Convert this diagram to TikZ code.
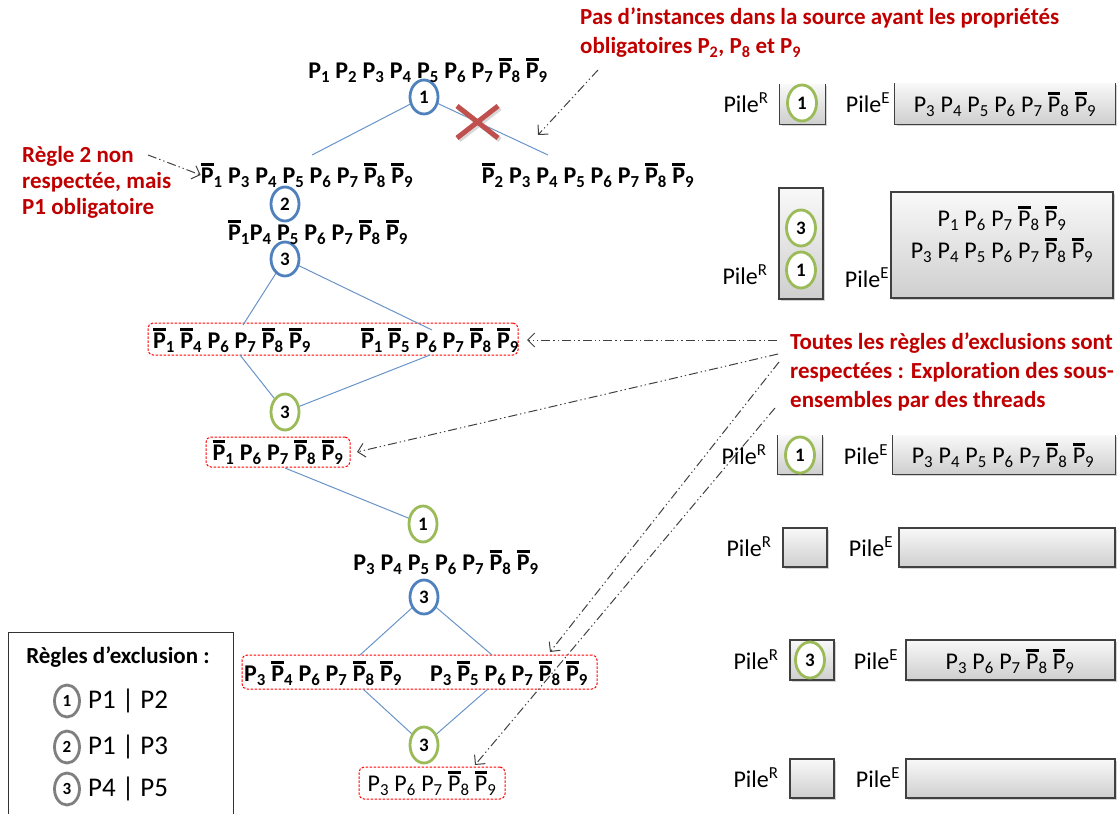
\documentclass[tikz,border=0pt]{standalone}
\usepackage{fontspec}
\setmainfont{Carlito}[Ligatures=NoCommon]
\usetikzlibrary{shapes.geometric,arrows.meta,shadows}
\definecolor{cblue}{HTML}{4F81BD}
\definecolor{cgreen}{HTML}{9BBB59}
\definecolor{cred}{HTML}{C00000}
\definecolor{xred}{HTML}{C0504D}
\definecolor{cgray}{HTML}{7F7F7F}
\newcommand\ovl[1]{\leavevmode\vbox{\hrule height .12em\kern .1em\hbox{#1}}}
\newcommand\pp[1]{P\textsubscript{#1}}
\newcommand\pn[1]{\ovl{P}\textsubscript{#1}}
\tikzset{
 tl/.style={inner sep=0pt, font=\fontsize{24}{28}\selectfont\bfseries},
 tr/.style={inner sep=0pt, font=\fontsize{24}{32}\selectfont, align=center},
 circ/.style={ellipse, line width=2.8pt, minimum width=28pt, minimum height=34pt, inner sep=0pt, fill=white, font=\fontsize{19}{19}\selectfont\bfseries},
 bc/.style={circ, draw=cblue},
 gc/.style={circ, draw=cgreen},
 kc/.style={circ, draw=cgray, minimum width=25pt, minimum height=32pt, font=\fontsize{17}{17}\selectfont\bfseries},
 tedge/.style={draw=cblue!85, line width=1pt},
 rbox/.style={draw=red, dash pattern=on 2.5pt off 1.5pt, line width=1pt, rounded corners=5pt, inner sep=0pt},
 ann/.style={text=cred, font=\fontsize{23}{29}\selectfont\bfseries, align=left, inner sep=0pt},
 arr/.style={draw=black!75, line width=1pt, dash pattern=on 9pt off 3pt on 1.3pt off 3pt on 1.3pt off 3pt, -{Straight Barb[length=7pt,width=14pt,line width=1pt]}},
 pile/.style={inner sep=0pt, font=\fontsize{24}{28}\selectfont},
 stkfill/.style={inner sep=0pt, top color=gray!5, bottom color=gray!38, drop shadow={shadow xshift=1.5pt, shadow yshift=-2pt, opacity=0.35}},
 stk/.style={stkfill, draw=black!75, line width=1.3pt},
 stkline/.style={draw=black!75, line width=1.3pt},
 legt/.style={inner sep=0pt, font=\fontsize{27}{30}\selectfont, anchor=west},
}
\begin{document}
\begin{tikzpicture}[x=1pt,y=-1pt]
\useasboundingbox (0,0) rectangle (1117,814);

% ---------- tree: coordinates for edge ends
\coordinate (e1) at (312,155);
\coordinate (e2) at (548,155);
\coordinate (e3) at (243,325);
\coordinate (e4) at (432,330);
\coordinate (e5) at (240,355);
\coordinate (e6) at (430,355);
\coordinate (e7) at (285,468);
\coordinate (e8) at (360,655);
\coordinate (e9) at (492,655);
\coordinate (e10) at (363,689);
\coordinate (e11) at (488,689);

% circles positions (nodes drawn after edges)
\path (424,97) coordinate (pc1) (285,204) coordinate (pc2) (285,259) coordinate (pc3)
      (285,412) coordinate (pc4) (423,524) coordinate (pc5) (424,597) coordinate (pc6)
      (424,745) coordinate (pc7);

% red dashed boxes
\node[rbox, minimum width=370pt, minimum height=32pt] (B1) at (333,339) {};
\node[rbox, minimum width=144pt, minimum height=30pt] (B2) at (278,452) {};
\node[rbox, minimum width=355pt, minimum height=34pt] (B3) at (419.5,672) {};
\node[rbox, minimum width=146pt, minimum height=32pt] (B4) at (432,783) {};

% edges
\draw[tedge] (pc1) -- (e1);
\draw[tedge] (pc1) -- (e2);
\draw[tedge] (pc3) -- (e3);
\draw[tedge] (pc3) -- (e4);
\draw[tedge] (e5) -- (pc4);
\draw[tedge] (e6) -- (pc4);
\draw[tedge] (e7) -- (pc5);
\draw[tedge] (pc6) -- (e8);
\draw[tedge] (pc6) -- (e9);
\draw[tedge] (e10) -- (pc7);
\draw[tedge] (e11) -- (pc7);

% circles
\node[bc] (C1) at (pc1) {1};
\node[bc] (C2) at (pc2) {2};
\node[bc] (C3) at (pc3) {3};
\node[gc, minimum height=36pt] (C4) at (pc4) {3};
\node[gc, minimum height=36pt] (C5) at (pc5) {1};
\node[bc] (C6) at (pc6) {3};
\node[gc, minimum height=36pt] (C7) at (pc7) {3};

% red cross
\draw[black!30, line width=5pt, opacity=.5] (459,108) -- (500,140) (459,140) -- (500,108);
\draw[xred, line width=5pt] (457,106) -- (498,138) (457,138) -- (498,106);

% tree labels
\node[tl] (L0) at (428,70) {\pp1 \pp2 \pp3 \pp4 \pp5 \pp6 \pp7 \pn8 \pn9};
\node[tl] (L1) at (307,175) {\pn1 \pp3 \pp4 \pp5 \pp6 \pp7 \pn8 \pn9};
\node[tl] (L1r) at (588,175) {\pn2 \pp3 \pp4 \pp5 \pp6 \pp7 \pn8 \pn9};
\node[tl] (L2) at (318,232) {\pn1\pp4 \pp5 \pp6 \pp7 \pn8 \pn9};
\node[tl] (L3a) at (232,340) {\pn1 \pn4 \pp6 \pp7 \pn8 \pn9};
\node[tl] (L3b) at (440,340) {\pn1 \pn5 \pp6 \pp7 \pn8 \pn9};
\node[tl] (L4) at (278,452) {\pn1 \pp6 \pp7 \pn8 \pn9};
\node[tl] (L5) at (446,562) {\pp3 \pp4 \pp5 \pp6 \pp7 \pn8 \pn9};
\node[tl] (L6a) at (323,673) {\pp3 \pn4 \pp6 \pp7 \pn8 \pn9};
\node[tl] (L6b) at (509,673) {\pp3 \pn5 \pp6 \pp7 \pn8 \pn9};
\node[tr] (L7) at (432,783) {\pp3 \pp6 \pp7 \pn8 \pn9};

% annotations
\node[ann, anchor=north west] (A1) at (580,8) {Pas d’instances dans la source ayant les propriétés\\obligatoires P\textsubscript{2}, P\textsubscript{8} et P\textsubscript{9}};
\node[ann, anchor=north west, font=\fontsize{23}{26}\selectfont\bfseries] (A2) at (22,146) {Règle 2 non\\respectée, mais\\P1 obligatoire};
\node[ann, anchor=north west] (A3) at (790,333) {Toutes les règles d’exclusions sont\\respectées : Exploration des sous-\\ensembles par des threads};

% annotation arrows
\coordinate (a1s) at (598,70);   \coordinate (a1e) at (538,135);
\coordinate (a2s) at (148,155);
\coordinate (a3s) at (777,340);  \coordinate (a3e) at (527,340);
\coordinate (a4s) at (778,354);  \coordinate (a4e) at (357,452);
\coordinate (a5s) at (779,362);  \coordinate (a5e) at (550,652);
\coordinate (a6s) at (775,408);  \coordinate (a6e) at (475,765);
\draw[arr] (a1s) -- (a1e);
\draw[arr] (a2s) -- (L1.west);
\draw[arr] (a3s) -- (a3e);
\draw[arr] (a4s) -- (a4e);
\draw[arr] (a5s) -- (a5e);
\draw[arr] (a6s) -- (a6e);

% ---------- stacks
% row 1
\node[pile] (PR1) at (746,103) {Pile\textsuperscript{R}};
\node[stkfill, minimum width=45pt, minimum height=40pt] (R1) at (802.5,104) {};
\draw[stkline] (R1.north west) -- (R1.south west) -- (R1.south east) -- (R1.north east);
\node[gc, minimum height=36pt, minimum width=29pt] (R1a) at (802,103) {1};
\node[pile] (PE1) at (868,103) {Pile\textsuperscript{E}};
\node[stkfill, minimum width=220pt, minimum height=41pt] (E1) at (1005,103.5) {};
\draw[stkline] (E1.north west) -- (E1.south west) -- (E1.south east) -- (E1.north east);
\node[tr] (E1t) at (1005,104) {\pp3 \pp4 \pp5 \pp6 \pp7 \pn8 \pn9};

% row 2
\node[pile] (PR2) at (745,275) {Pile\textsuperscript{R}};
\node[stk, minimum width=44pt, minimum height=111pt] (R2) at (801,243.5) {};
\node[gc, minimum height=36pt, minimum width=29pt] (R2a) at (801,228) {3};
\node[gc, minimum height=36pt, minimum width=29pt] (R2b) at (801,270) {1};
\node[pile] (PE2) at (867,278) {Pile\textsuperscript{E}};
\node[stk, minimum width=222pt, minimum height=106pt] (E2) at (1002,245) {};
\node[tr] (E2t) at (1002,234) {\pp1 \pp6 \pp7 \pn8 \pn9\\\pp3 \pp4 \pp5 \pp6 \pp7 \pn8 \pn9};

% row 3
\node[pile] (PR3) at (744,455) {Pile\textsuperscript{R}};
\node[stkfill, minimum width=44pt, minimum height=39pt] (R3) at (800,454.5) {};
\draw[stkline] (R3.north west) -- (R3.south west) -- (R3.south east) -- (R3.north east);
\node[gc, minimum height=36pt, minimum width=29pt] (R3a) at (800,455) {1};
\node[pile] (PE3) at (866,455) {Pile\textsuperscript{E}};
\node[stkfill, minimum width=222pt, minimum height=39pt] (E3) at (1004,454.5) {};
\draw[stkline] (E3.north west) -- (E3.south west) -- (E3.south east) -- (E3.north east);
\node[tr] (E3t) at (1003,455) {\pp3 \pp4 \pp5 \pp6 \pp7 \pn8 \pn9};

% row 4
\node[pile] (PR4) at (749,547) {Pile\textsuperscript{R}};
\node[stk, minimum width=44pt, minimum height=39pt] (R4) at (805,547.5) {};
\node[pile] (PE4) at (871,547) {Pile\textsuperscript{E}};
\node[stk, minimum width=216pt, minimum height=39pt] (E4) at (1007,547.5) {};

% row 5
\node[pile] (PR5) at (756,660) {Pile\textsuperscript{R}};
\node[stk, minimum width=44pt, minimum height=40pt] (R5) at (812,660) {};
\node[gc, minimum height=36pt, minimum width=29pt] (R5a) at (810,660) {3};
\node[pile] (PE5) at (876,660) {Pile\textsuperscript{E}};
\node[stk, minimum width=209pt, minimum height=40pt] (E5) at (1010.5,660) {};
\node[tr] (E5t) at (1010,661) {\pp3 \pp6 \pp7 \pn8 \pn9};

% row 6
\node[pile] (PR6) at (756,778) {Pile\textsuperscript{R}};
\node[stk, minimum width=44pt, minimum height=39pt] (R6) at (812,778.5) {};
\node[pile] (PE6) at (878,778) {Pile\textsuperscript{E}};
\node[stk, minimum width=209pt, minimum height=39pt] (E6) at (1010.5,778.5) {};

% ---------- legend
\node[draw=black!80, line width=1.3pt, minimum width=225pt, minimum height=200pt, anchor=north west, inner sep=0pt] (leg) at (8,632) {};
\node[inner sep=0pt, font=\fontsize{23}{23}\selectfont\bfseries] (legT) at (118,657) {Règles d’exclusion :};
\node[kc] (K1) at (67,701) {1};
\node[legt] (K1t) at (88,701) {P1 | P2};
\node[kc] (K2) at (67,747) {2};
\node[legt] (K2t) at (88,747) {P1 | P3};
\node[kc] (K3) at (67,789) {3};
\node[legt] (K3t) at (88,789) {P4 | P5};
\end{tikzpicture}
\end{document}
